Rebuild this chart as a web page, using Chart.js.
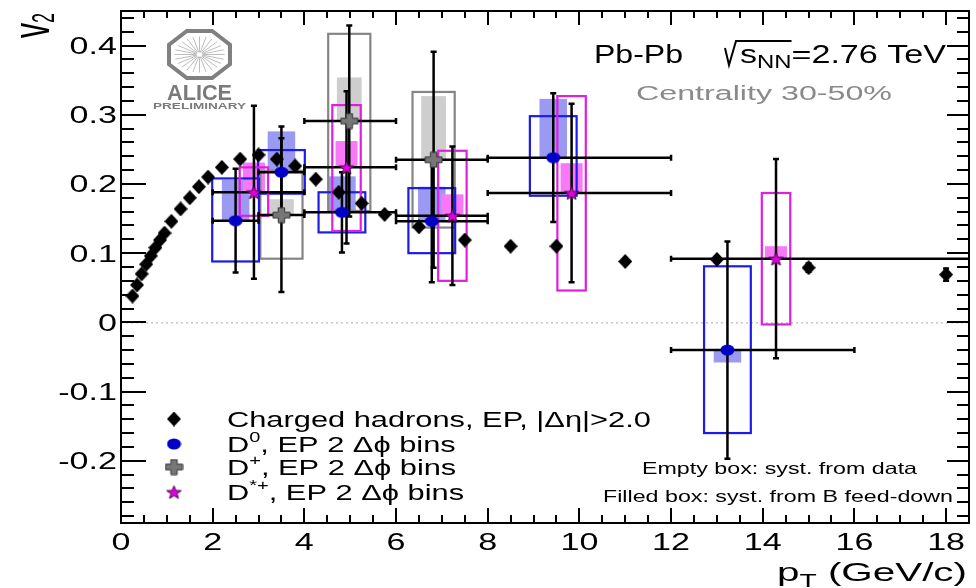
<!DOCTYPE html>
<html>
<head>
<meta charset="utf-8">
<title>D-meson v2 vs pT, Pb-Pb 2.76 TeV</title>
<script src="https://cdn.jsdelivr.net/npm/chart.js@4.4.1/dist/chart.umd.min.js"></script>
<style>
  html, body { margin: 0; padding: 0; background: #fff; }
  #wrap { width: 976px; height: 588px; }
</style>
</head>
<body>
<div id="wrap"><canvas id="v2chart" width="976" height="588"></canvas></div>
<script>
// axis ranges and labels
const xMin = 0, xMax = 18.5;
const yMin = -0.29, yMax = 0.45;
const xTickValues = [0, 2, 4, 6, 8, 10, 12, 14, 16, 18];
const xTickLabels = ['0', '2', '4', '6', '8', '10', '12', '14', '16', '18'];
const yTickValues = [-0.2, -0.1, 0, 0.1, 0.2, 0.3, 0.4];
const yTickLabels = ['-0.2', '-0.1', '0', '0.1', '0.2', '0.3', '0.4'];

// charged hadrons, EP, |deta|>2
const hadronPt  = [0.25, 0.35, 0.45, 0.55, 0.65, 0.75, 0.85, 0.95, 1.1, 1.3, 1.5, 1.7, 1.9, 2.2, 2.6, 3.0, 3.4, 3.8, 4.25, 4.75, 5.25, 5.75, 6.5, 7.5, 8.5, 9.5, 11, 13, 15, 18];
const hadronV2  = [0.038, 0.054, 0.070, 0.084, 0.096, 0.108, 0.119, 0.129, 0.146, 0.164, 0.180, 0.196, 0.210, 0.224, 0.236, 0.242, 0.236, 0.226, 0.207, 0.188, 0.172, 0.156, 0.138, 0.119, 0.110, 0.110, 0.088, 0.091, 0.079, 0.069];
const hadronErr = [0.001, 0.001, 0.001, 0.001, 0.001, 0.001, 0.001, 0.001, 0.001, 0.001, 0.001, 0.001, 0.001, 0.001, 0.001, 0.001, 0.001, 0.002, 0.002, 0.002, 0.002, 0.002, 0.002, 0.002, 0.002, 0.002, 0.003, 0.004, 0.006, 0.009];

// D0: value, stat. error, pT bin, syst. from data, syst. from B feed-down
const d0Pt    = [2.5, 3.5, 4.82, 6.78, 9.43, 13.23];
const d0Lo    = [2, 3, 4, 6, 8, 12];
const d0Hi    = [3, 4, 6, 8, 12, 16];
const d0V2    = [0.147, 0.217, 0.159, 0.146, 0.238, -0.040];
const d0Stat  = [0.075, 0.066, 0.058, 0.088, 0.093, 0.157];
const d0SysLo = [0.088, 0.186, 0.130, 0.100, 0.183, -0.160];
const d0SysHi = [0.208, 0.249, 0.188, 0.194, 0.298, 0.081];
const d0FdLo  = [0.147, 0.217, 0.159, 0.146, 0.238, -0.058];
const d0FdHi  = [0.206, 0.276, 0.211, 0.196, 0.323, -0.040];

// D+
const dpPt    = [3.5, 4.98, 6.82];
const dpLo    = [3, 4, 6];
const dpHi    = [4, 6, 8];
const dpV2    = [0.155, 0.291, 0.235];
const dpStat  = [0.111, 0.138, 0.156];
const dpSysLo = [0.092, 0.161, 0.137];
const dpSysHi = [0.219, 0.417, 0.333];
const dpFdLo  = [0.155, 0.291, 0.235];
const dpFdHi  = [0.178, 0.354, 0.327];

// D*+
const dsPt    = [2.9, 4.92, 7.23, 9.83, 14.29];
const dsLo    = [2, 4, 6, 8, 12];
const dsHi    = [4, 6, 8, 12, 24];
const dsV2    = [0.188, 0.224, 0.154, 0.187, 0.092];
const dsStat  = [0.125, 0.110, 0.100, 0.129, 0.144];
const dsSysLo = [0.154, 0.132, 0.060, 0.046, -0.003];
const dsSysHi = [0.224, 0.314, 0.248, 0.327, 0.187];
const dsFdLo  = [0.188, 0.224, 0.154, 0.187, 0.092];
const dsFdHi  = [0.231, 0.262, 0.185, 0.230, 0.110];

const FONT = '"Liberation Sans", Arial, Helvetica, sans-serif';

// --- marker images -------------------------------------------------------
function makeMarker(w, h, paint) {
  const c = document.createElement('canvas');
  c.width = w; c.height = h;
  paint(c.getContext('2d'), w, h);
  return c;
}

const diamondImg = makeMarker(14, 15, (g, w, h) => {
  g.fillStyle = '#000';
  g.beginPath();
  g.moveTo(w / 2, 0); g.lineTo(w, h / 2); g.lineTo(w / 2, h); g.lineTo(0, h / 2);
  g.closePath();
  g.fill();
});

const circleImg = makeMarker(15, 12, (g, w, h) => {
  g.fillStyle = '#0000c8';
  g.beginPath();
  g.ellipse(w / 2, h / 2, w / 2 - 0.5, h / 2 - 0.5, 0, 0, Math.PI * 2);
  g.fill();
});

const crossImg = makeMarker(19, 17, (g, w, h) => {
  const a = 3.2, b = 2.8, cx = w / 2, cy = h / 2;
  g.beginPath();
  g.moveTo(cx - a, 1); g.lineTo(cx + a, 1); g.lineTo(cx + a, cy - b);
  g.lineTo(w - 1, cy - b); g.lineTo(w - 1, cy + b); g.lineTo(cx + a, cy + b);
  g.lineTo(cx + a, h - 1); g.lineTo(cx - a, h - 1); g.lineTo(cx - a, cy + b);
  g.lineTo(1, cy + b); g.lineTo(1, cy - b); g.lineTo(cx - a, cy - b);
  g.closePath();
  g.fillStyle = '#777';
  g.fill();
  g.strokeStyle = '#333';
  g.lineWidth = 1;
  g.stroke();
});

const starImg = makeMarker(17, 15, (g, w, h) => {
  const cx = w / 2, cy = h / 2 + 0.8, R = 7, r = 2.9;
  g.beginPath();
  for (let k = 0; k < 10; k++) {
    const ang = -Math.PI / 2 + k * Math.PI / 5;
    const rad = k % 2 ? r : R;
    const px = cx + Math.cos(ang) * rad * 1.1, py = cy + Math.sin(ang) * rad;
    if (k) g.lineTo(px, py); else g.moveTo(px, py);
  }
  g.closePath();
  g.fillStyle = '#e000e0';
  g.fill();
  g.strokeStyle = '#4a004a';
  g.lineWidth = 1;
  g.stroke();
});

// --- series with boxes ---------------------------------------------------
const mesons = [
  { pt: dpPt, lo: dpLo, hi: dpHi, v2: dpV2, stat: dpStat, sysLo: dpSysLo, sysHi: dpSysHi,
    fdLo: dpFdLo, fdHi: dpFdHi, boxHalf: 0.46, fdHalf: 0.27, line: '#858585', fill: '#cecece' },
  { pt: d0Pt, lo: d0Lo, hi: d0Hi, v2: d0V2, stat: d0Stat, sysLo: d0SysLo, sysHi: d0SysHi,
    fdLo: d0FdLo, fdHi: d0FdHi, boxHalf: 0.51, fdHalf: 0.30, line: '#1c1ce8', fill: '#9a9af2' },
  { pt: dsPt, lo: dsLo, hi: dsHi, v2: dsV2, stat: dsStat, sysLo: dsSysLo, sysHi: dsSysHi,
    fdLo: dsFdLo, fdHi: dsFdHi, boxHalf: 0.31, fdHalf: 0.24, line: '#e01ee0', fill: '#f878f8' }
];

// text with a horizontal stretch; parts = [{t, scale, dy}]
function drawText(ctx, parts, x, y, opt) {
  const size = opt.size || 20;
  const weight = opt.weight || 'normal';
  const fontOf = p => weight + ' ' + (size * (p.scale || 1)).toFixed(1) + 'px ' + FONT;
  let total = 0;
  const widths = parts.map(p => {
    ctx.font = fontOf(p);
    const w = ctx.measureText(p.t).width;
    total += w;
    return w;
  });
  const sx = opt.width ? opt.width / total : (opt.sx || 1);
  let x0 = x;
  if (opt.align === 'right') x0 = x - total * sx;
  else if (opt.align === 'center') x0 = x - total * sx / 2;
  ctx.save();
  ctx.translate(x0, y);
  ctx.scale(sx, 1);
  ctx.fillStyle = opt.color || '#000';
  ctx.textBaseline = 'alphabetic';
  ctx.textAlign = 'left';
  let cx = 0;
  parts.forEach((p, i) => {
    ctx.font = fontOf(p);
    ctx.fillText(p.t, cx, p.dy || 0);
    cx += widths[i];
  });
  ctx.restore();
  return { x0: x0, sx: sx, widths: widths };
}

function vErr(ctx, x, y1, y2, cap) {
  ctx.beginPath();
  ctx.moveTo(x, y1); ctx.lineTo(x, y2);
  ctx.moveTo(x - cap, y1); ctx.lineTo(x + cap, y1);
  ctx.moveTo(x - cap, y2); ctx.lineTo(x + cap, y2);
  ctx.stroke();
}

function hErr(ctx, y, x1, x2, cap) {
  ctx.beginPath();
  ctx.moveTo(x1, y); ctx.lineTo(x2, y);
  ctx.moveTo(x1, y - cap); ctx.lineTo(x1, y + cap);
  ctx.moveTo(x2, y - cap); ctx.lineTo(x2, y + cap);
  ctx.stroke();
}

// boxes and error bars go under the markers
const errorBoxes = {
  id: 'errorBoxes',
  beforeDatasetsDraw(chart) {
    const ctx = chart.ctx, a = chart.chartArea;
    const X = v => chart.scales.x.getPixelForValue(v);
    const Y = v => chart.scales.y.getPixelForValue(v);
    ctx.save();
    ctx.beginPath();
    ctx.rect(a.left, a.top, a.right - a.left, a.bottom - a.top);
    ctx.clip();

    // y = 0 reference
    ctx.strokeStyle = '#a8a8a8';
    ctx.lineWidth = 1;
    ctx.setLineDash([2, 3]);
    ctx.beginPath();
    ctx.moveTo(a.left, Y(0) + 0.5); ctx.lineTo(a.right, Y(0) + 0.5);
    ctx.stroke();
    ctx.setLineDash([]);

    // feed-down boxes (filled)
    mesons.forEach(s => {
      ctx.fillStyle = s.fill;
      s.pt.forEach((p, i) => {
        const x1 = X(p - s.fdHalf), x2 = X(p + s.fdHalf);
        const y1 = Y(s.fdHi[i]), y2 = Y(s.fdLo[i]);
        ctx.fillRect(x1, y1, x2 - x1, y2 - y1);
      });
    });
    // data syst. boxes (empty)
    mesons.forEach(s => {
      ctx.strokeStyle = s.line;
      ctx.lineWidth = 2.2;
      s.pt.forEach((p, i) => {
        const x1 = X(p - s.boxHalf), x2 = X(p + s.boxHalf);
        const y1 = Y(s.sysHi[i]), y2 = Y(s.sysLo[i]);
        ctx.strokeRect(x1, y1, x2 - x1, y2 - y1);
      });
    });

    // statistical error bars
    ctx.strokeStyle = '#000';
    ctx.lineWidth = 2.5;
    mesons.forEach(s => {
      s.pt.forEach((p, i) => {
        hErr(ctx, Y(s.v2[i]), X(s.lo[i]), X(s.hi[i]), 3);
        vErr(ctx, X(p), Y(s.v2[i] + s.stat[i]), Y(s.v2[i] - s.stat[i]), 3);
      });
    });
    hadronPt.forEach((p, i) => {
      vErr(ctx, X(p), Y(hadronV2[i] + hadronErr[i]), Y(hadronV2[i] - hadronErr[i]), 3);
    });
    ctx.restore();
  },

  afterDraw(chart) {
    const ctx = chart.ctx, a = chart.chartArea;
    const X = v => chart.scales.x.getPixelForValue(v);
    const Y = v => chart.scales.y.getPixelForValue(v);
    ctx.save();

    // frame and inward ticks
    ctx.strokeStyle = '#000';
    ctx.lineWidth = 2;
    ctx.strokeRect(a.left, a.top, a.right - a.left, a.bottom - a.top);
    ctx.beginPath();
    for (let v = xMin; v <= xMax + 1e-6; v += 0.5) {
      const major = Math.abs(v / 2 - Math.round(v / 2)) < 1e-6;
      const px = Math.round(X(v));
      ctx.moveTo(px, a.bottom); ctx.lineTo(px, a.bottom - (major ? 15 : 8));
      ctx.moveTo(px, a.top); ctx.lineTo(px, a.top + (major ? 14 : 7));
    }
    for (let k = -14; k <= 22; k++) {
      const v = k * 0.02;
      const major = k % 5 === 0;
      const py = Math.round(Y(v));
      ctx.moveTo(a.left, py); ctx.lineTo(a.left + (major ? 25 : 13), py);
      ctx.moveTo(a.right, py); ctx.lineTo(a.right - (major ? 22 : 12), py);
    }
    ctx.stroke();

    // tick labels
    xTickValues.forEach((v, i) => {
      drawText(ctx, [{ t: xTickLabels[i] }], X(v), 550, { size: 24, sx: 1.42, align: 'center' });
    });
    yTickValues.forEach((v, i) => {
      drawText(ctx, [{ t: yTickLabels[i] }], 117, Y(v) + 8.5, { size: 24, sx: 1.42, align: 'right' });
    });

    // axis titles
    drawText(ctx, [{ t: 'p' }, { t: 'T', scale: 0.7, dy: 6 }, { t: ' (GeV/c)' }], 777, 581,
      { size: 25, width: 190 });
    ctx.save();
    ctx.translate(49, 38);
    ctx.rotate(-Math.PI / 2);
    ctx.scale(1, 1.7);
    ctx.fillStyle = '#000';
    ctx.font = '30px ' + FONT;
    ctx.fillText('v', 0, 0);
    const vw = ctx.measureText('v').width;
    ctx.font = '18px ' + FONT;
    ctx.fillText('2', vw, 3);
    ctx.restore();

    // collision system and centrality
    drawText(ctx, [{ t: 'Pb-Pb' }], 594, 63, { size: 25, width: 89 });
    const r = drawText(ctx, [{ t: 's' }, { t: 'NN', scale: 0.7, dy: 5 }, { t: '=2.76 TeV' }], 740, 63,
      { size: 25, width: 206 });
    const rootEnd = r.x0 + (r.widths[0] + r.widths[1]) * r.sx;
    ctx.strokeStyle = '#000';
    ctx.lineWidth = 2;
    ctx.beginPath();
    ctx.moveTo(725, 48); ctx.lineTo(729, 65); ctx.lineTo(736, 41); ctx.lineTo(rootEnd, 41);
    ctx.stroke();
    drawText(ctx, [{ t: 'Centrality 30-50%' }], 636, 100, { size: 20, width: 256, color: '#8a8a8a' });

    // systematic box notes
    drawText(ctx, [{ t: 'Empty box: syst. from data' }], 642, 474, { size: 16.5, width: 275 });
    drawText(ctx, [{ t: 'Filled box: syst. from B feed-down' }], 603, 502, { size: 16.5, width: 350 });

    // legend
    const legendRows = [
      { img: diamondImg, y: 419, parts: [{ t: 'Charged hadrons, EP, |Δη|>2.0' }] },
      { img: circleImg, y: 444, parts: [{ t: 'D' }, { t: '0', scale: 0.65, dy: -10 }, { t: ', EP 2 Δϕ bins' }] },
      { img: crossImg, y: 467, parts: [{ t: 'D' }, { t: '+', scale: 0.65, dy: -10 }, { t: ', EP 2 Δϕ bins' }] },
      { img: starImg, y: 492, parts: [{ t: 'D' }, { t: '*+', scale: 0.65, dy: -10 }, { t: ', EP 2 Δϕ bins' }] }
    ];
    legendRows.forEach(row => {
      ctx.drawImage(row.img, 174 - row.img.width / 2, row.y - row.img.height / 2);
      drawText(ctx, row.parts, 227, row.y + 8, { size: 22, sx: 1.4 });
    });

    // ALICE logo
    const cx = 199.5, cy = 54.5;
    ctx.strokeStyle = '#bdbdbd';
    ctx.lineWidth = 1;
    ctx.beginPath();
    for (let k = 0; k < 24; k++) {
      const ang = k * Math.PI / 12;
      ctx.moveTo(cx + Math.cos(ang) * 3, cy + Math.sin(ang) * 2.3);
      ctx.lineTo(cx + Math.cos(ang) * 25, cy + Math.sin(ang) * 18);
    }
    ctx.stroke();
    ctx.strokeStyle = '#808080';
    ctx.lineWidth = 4;
    ctx.beginPath();
    for (let k = 0; k < 8; k++) {
      const ang = Math.PI / 8 + k * Math.PI / 4;
      const px = cx + Math.cos(ang) * 33, py = cy + Math.sin(ang) * 25.5;
      if (k) ctx.lineTo(px, py); else ctx.moveTo(px, py);
    }
    ctx.closePath();
    ctx.stroke();
    drawText(ctx, [{ t: 'ALICE' }], 167, 100, { size: 22, weight: 'bold', width: 65, color: '#7a7a7a' });
    drawText(ctx, [{ t: 'PRELIMINARY' }], 153, 108.5, { size: 9, weight: 'bold', width: 93, color: '#7a7a7a' });

    ctx.restore();
  }
};

const ctx = document.getElementById('v2chart').getContext('2d');
new Chart(ctx, {
  type: 'scatter',
  data: {
    datasets: [
      {
        label: 'D*+, EP 2 Δϕ bins',
        data: dsPt.map((x, i) => ({ x: x, y: dsV2[i] })),
        pointStyle: starImg, pointRadius: 6, order: 1
      },
      {
        label: 'D+, EP 2 Δϕ bins',
        data: dpPt.map((x, i) => ({ x: x, y: dpV2[i] })),
        pointStyle: crossImg, pointRadius: 6, order: 2
      },
      {
        label: 'D0, EP 2 Δϕ bins',
        data: d0Pt.map((x, i) => ({ x: x, y: d0V2[i] })),
        pointStyle: circleImg, pointRadius: 6, order: 3
      },
      {
        label: 'Charged hadrons, EP, |Δη|>2.0',
        data: hadronPt.map((x, i) => ({ x: x, y: hadronV2[i] })),
        pointStyle: diamondImg, pointRadius: 6, order: 4
      }
    ]
  },
  options: {
    responsive: false,
    animation: false,
    devicePixelRatio: 1,
    events: [],
    layout: { padding: { left: 121, top: 11, right: 7, bottom: 65 } },
    scales: {
      x: { type: 'linear', min: xMin, max: xMax, display: false },
      y: { type: 'linear', min: yMin, max: yMax, display: false }
    },
    plugins: {
      legend: { display: false },
      tooltip: { enabled: false }
    }
  },
  plugins: [errorBoxes]
});
</script>
</body>
</html>
